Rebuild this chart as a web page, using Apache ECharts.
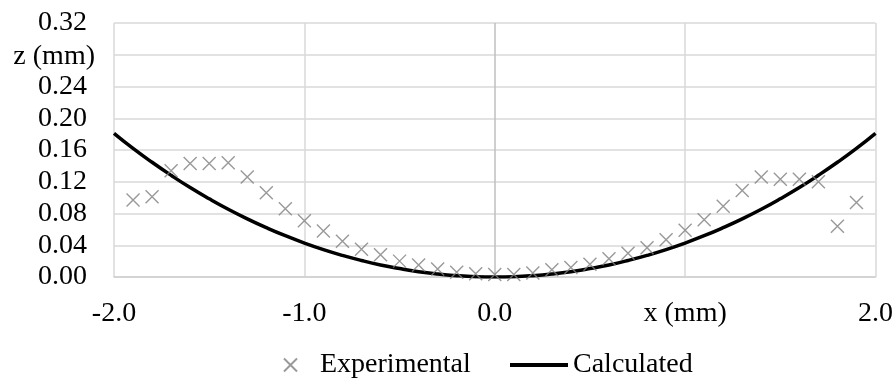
<!DOCTYPE html>
<html>
<head>
<meta charset="utf-8">
<script src="https://cdn.jsdelivr.net/npm/echarts@6/dist/echarts.min.js"></script>
<style>html,body{margin:0;padding:0;background:#fff}#c{width:896px;height:384px}</style>
</head>
<body>
<div id="c"></div>
<script>
// Experimental points
const xExp = [-1.9,-1.8,-1.7,-1.6,-1.5,-1.4,-1.3,-1.2,-1.1,-1.0,-0.9,-0.8,-0.7,-0.6,-0.5,-0.4,-0.3,-0.2,-0.1,0.0,0.1,0.2,0.3,0.4,0.5,0.6,0.7,0.8,0.9,1.0,1.1,1.2,1.3,1.4,1.5,1.6,1.7,1.8,1.9];
const zExp = [0.097,0.101,0.134,0.143,0.143,0.144,0.126,0.106,0.086,0.071,0.058,0.045,0.035,0.028,0.020,0.015,0.010,0.006,0.004,0.003,0.003,0.005,0.009,0.012,0.016,0.023,0.030,0.037,0.047,0.059,0.072,0.089,0.109,0.126,0.123,0.123,0.120,0.064,0.094];
// Calculated curve
const xCalc = [-2.0,-1.9,-1.8,-1.7,-1.6,-1.5,-1.4,-1.3,-1.2,-1.1,-1.0,-0.9,-0.8,-0.7,-0.6,-0.5,-0.4,-0.3,-0.2,-0.1,0.0,0.1,0.2,0.3,0.4,0.5,0.6,0.7,0.8,0.9,1.0,1.1,1.2,1.3,1.4,1.5,1.6,1.7,1.8,1.9,2.0];
const zCalc = [0.181,0.162,0.1445,0.1281,0.1127,0.0986,0.0854,0.0733,0.0622,0.0520,0.0428,0.0345,0.0272,0.0208,0.0152,0.0106,0.0067,0.0038,0.0017,0.0004,0.0,0.0004,0.0017,0.0038,0.0067,0.0106,0.0152,0.0208,0.0272,0.0345,0.0428,0.0520,0.0622,0.0733,0.0854,0.0986,0.1127,0.1281,0.1445,0.162,0.181];
// Axis ticks
const xTicks = [-2, -1, 0, 1, 2];
const yTicks = [0, 0.04, 0.08, 0.12, 0.16, 0.20, 0.24, 0.28, 0.32];
const xTitle = 'x (mm)';
const yTitle = 'z (mm)';

const FONT = '"Liberation Serif", "Times New Roman", serif';
const chart = echarts.init(document.getElementById('c'), null, {renderer: 'canvas'});
const xMark = 'path://M0,0L10,10M0,10L10,0';

chart.setOption({
  animation: false,
  backgroundColor: '#fff',
  grid: {left: 114, right: 18, top: 23, bottom: 107, containLabel: false},
  xAxis: {
    type: 'value', min: xTicks[0], max: xTicks[xTicks.length - 1], interval: 1,
    axisLine: {show: true, lineStyle: {color: '#d0d0d0', width: 1.5}},
    axisTick: {show: false},
    splitLine: {show: true, lineStyle: {color: ['#d9d9d9', '#d9d9d9', '#bfbfbf', '#d9d9d9', '#d9d9d9'], width: 1.5}},
    axisLabel: {
      margin: 23, color: '#000', fontFamily: FONT, fontSize: 28,
      formatter: v => (Math.abs(v - 1) < 1e-9 ? xTitle : v.toFixed(1))
    }
  },
  yAxis: {
    type: 'value', min: yTicks[0], max: yTicks[yTicks.length - 1], interval: 0.04,
    axisLine: {show: false},
    axisTick: {show: false},
    splitLine: {show: true, lineStyle: {color: '#d9d9d9', width: 1.5}},
    axisLabel: {
      margin: 27, color: '#000', fontFamily: FONT, fontSize: 28,
      formatter: v => (Math.abs(v - 0.28) < 1e-9 ? '' : v.toFixed(2))
    }
  },
  graphic: [{
    type: 'text', x: 95, y: 57,
    style: {text: yTitle, font: '28px ' + FONT, fill: '#000', textAlign: 'right', textVerticalAlign: 'middle'}
  }],
  legend: [{
    data: [{name: 'Experimental'}], left: 283, top: 351, padding: 0, itemWidth: 13, itemHeight: 13,
    textStyle: {color: '#000', fontFamily: FONT, fontSize: 28, padding: [0, 0, 0, 18]}
  }, {
    data: [{name: 'Calculated', icon: 'rect'}], left: 510, top: 351, padding: 0, itemWidth: 58, itemHeight: 4,
    itemStyle: {color: '#000'},
    textStyle: {color: '#000', fontFamily: FONT, fontSize: 28}
  }],
  series: [{
    name: 'Experimental', type: 'scatter', symbol: xMark, symbolSize: 13,
    itemStyle: {color: 'rgba(0,0,0,0)', borderColor: '#808080', borderWidth: 1.4},
    data: xExp.map((x, i) => [x, zExp[i]]), z: 3
  }, {
    name: 'Calculated', type: 'line', smooth: true, showSymbol: false, symbol: 'none',
    lineStyle: {color: '#000', width: 3.5}, itemStyle: {color: '#000'},
    data: xCalc.map((x, i) => [x, zCalc[i]]), z: 2
  }]
});
</script>
</body>
</html>
